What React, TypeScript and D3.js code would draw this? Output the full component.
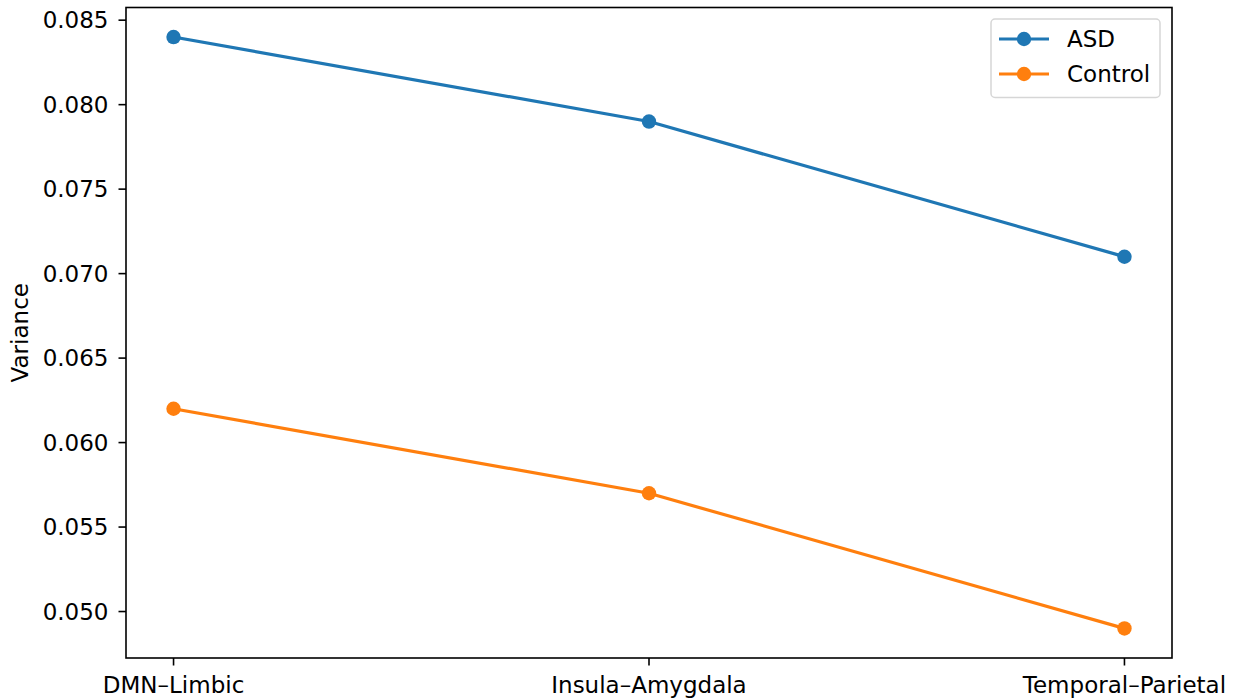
import React from "react";
import * as d3 from "d3";

const categories = ["DMN–Limbic", "Insula–Amygdala", "Temporal–Parietal"];
const asdValues = [0.084, 0.079, 0.071];
const controlValues = [0.062, 0.057, 0.049];
const yTicks = [0.05, 0.055, 0.06, 0.065, 0.07, 0.075, 0.08, 0.085];
const seriesNames = ["ASD", "Control"];
const seriesColors = ["#1f77b4", "#ff7f0e"];

const W = 1240;
const H = 700;
const left = 126;
const right = 1172;
const top = 7.5;
const bottom = 658;
const FONT = "DejaVu Sans, sans-serif";
const FS = 23;

export default function App() {
  const allVals = [...asdValues, ...controlValues];
  const lo = d3.min(allVals)!;
  const hi = d3.max(allVals)!;
  const m = (hi - lo) * 0.05;
  const y = d3.scaleLinear().domain([lo - m, hi + m]).range([bottom, top]);
  const n = categories.length;
  const xm = (n - 1) * 0.05;
  const x = d3.scaleLinear().domain([-xm, n - 1 + xm]).range([left, right]);
  const line = d3
    .line<number>()
    .x((_, i) => x(i))
    .y((d) => y(d));
  const series = [asdValues, controlValues];

  return (
    <svg
      width={W}
      height={H}
      style={{ position: "absolute", left: 0, top: 0, background: "#fff" }}
      fontFamily={FONT}
    >
      <rect x={0} y={0} width={W} height={H} fill="#fff" />
      {series.map((vals, si) => (
        <g key={si}>
          <path d={line(vals)!} fill="none" stroke={seriesColors[si]} strokeWidth={3.2} strokeLinejoin="round" strokeLinecap="square" />
          {vals.map((v, i) => (
            <circle key={i} cx={x(i)} cy={y(v)} r={7.2} fill={seriesColors[si]} />
          ))}
        </g>
      ))}
      <rect x={left} y={top} width={right - left} height={bottom - top} fill="none" stroke="#000" strokeWidth={1.6} />
      {yTicks.map((t) => (
        <g key={t} transform={`translate(0,${y(t)})`}>
          <line x1={left - 7.5} x2={left} stroke="#000" strokeWidth={1.6} />
          <text x={left - 17.5} dy="0.36em" textAnchor="end" fontSize={FS} fill="#000">
            {d3.format(".3f")(t)}
          </text>
        </g>
      ))}
      {categories.map((c, i) => (
        <g key={c} transform={`translate(${x(i)},0)`}>
          <line y1={bottom} y2={bottom + 7.5} stroke="#000" strokeWidth={1.6} />
          <text y={bottom + 35} textAnchor="middle" fontSize={FS} fill="#000">
            {c}
          </text>
        </g>
      ))}
      <text
        transform={`translate(${28},${(top + bottom) / 2}) rotate(-90)`}
        textAnchor="middle"
        fontSize={FS}
        fill="#000"
      >
        Variance
      </text>
      <g>
        <rect x={991} y={19} width={169} height={78.5} rx={4} fill="#fff" fillOpacity={0.8} stroke="#d6d6d6" strokeWidth={1.5} />
        {seriesNames.map((s, i) => (
          <g key={s} transform={`translate(0,${39 + i * 35})`}>
            <line x1={999} x2={1049} stroke={seriesColors[i]} strokeWidth={3.2} />
            <circle cx={1024} cy={0} r={7.2} fill={seriesColors[i]} />
            <text x={1067} dy="0.36em" fontSize={FS} fill="#000">
              {s}
            </text>
          </g>
        ))}
      </g>
    </svg>
  );
}
